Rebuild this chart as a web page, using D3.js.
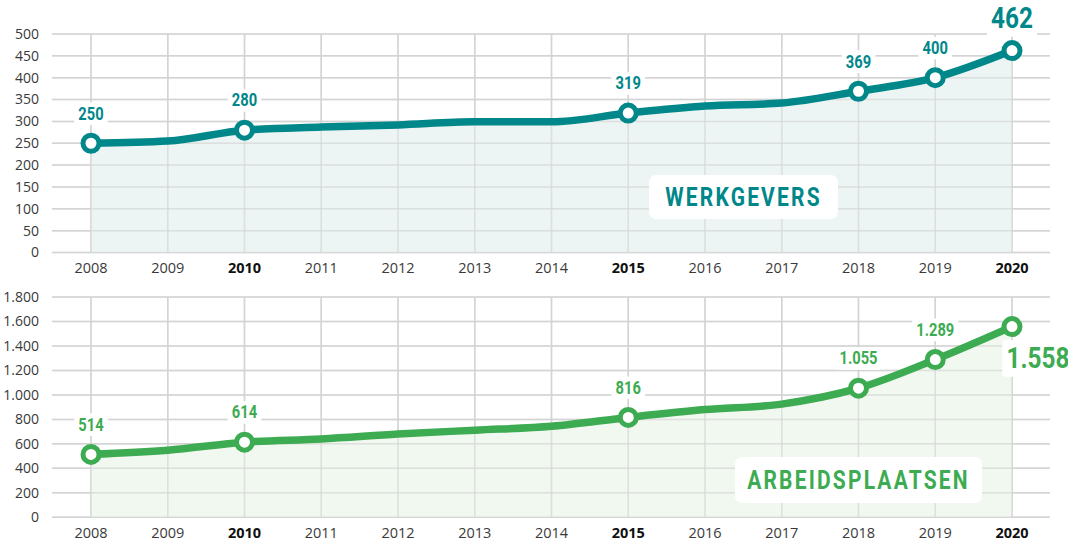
<!DOCTYPE html>
<html><head><meta charset="utf-8">
<script src="https://cdn.jsdelivr.net/npm/d3@7"></script>
<style>
html,body{margin:0;padding:0;background:#fff;}
svg{display:block;}
</style></head>
<body>
<svg id="chart" width="1068" height="546"></svg>
<script>
const years = [2008,2009,2010,2011,2012,2013,2014,2015,2016,2017,2018,2019,2020];
const boldYears = [2010,2015,2020];
const werkgevers = [250,255,280,287,292,299,299,319,335,342,369,400,462];
const arbeidsplaatsen = [514,548,614,640,680,712,744,816,880,925,1055,1289,1558];
const labeledYears = [2008,2010,2015,2018,2019,2020];
const topTicks = [0,50,100,150,200,250,300,350,400,450,500];
const bottomTicks = [0,200,400,600,800,1000,1200,1400,1600,1800];

const nl = d3.formatLocale({decimal:",",thousands:".",grouping:[3],currency:["€",""]});
const fmt = nl.format(",d");

const svg = d3.select("#chart");
const x = d3.scaleLinear().domain([2008,2020]).range([91,1012]);
const gridX0 = 52, gridX1 = 1050;
const labelFont = "Roboto,'DejaVu Sans',sans-serif";
const axisFont = "'Open Sans','Noto Sans',sans-serif";
const SQ = 0.84;

function condensedText(parent, tx, ty, str, fs, color, ls, withBg){
  const g = parent.append("g").attr("transform",`translate(${tx},${ty}) scale(${SQ},1)`);
  const t = g.append("text").attr("x",0).attr("y",0).attr("dy","0.36em")
    .attr("text-anchor","middle").attr("font-family",labelFont).attr("font-weight","bold")
    .attr("font-size",fs).attr("letter-spacing",ls||0).attr("fill",color).text(str);
  if (withBg){
    const bb = t.node().getBBox();
    g.insert("rect","text").attr("x",bb.x-5).attr("y",bb.y-1).attr("width",bb.width+10).attr("height",bb.height+2)
      .attr("rx",4).attr("fill","#fff");
  }
  return g;
}

function panel(cfg){
  const g = svg.append("g");
  const y = d3.scaleLinear().domain([0, cfg.max]).range([cfg.y0, cfg.y1]);
  const grid = (op)=>{
    g.append("g").selectAll("line").data(cfg.ticks).join("line")
      .attr("x1",gridX0).attr("x2",gridX1)
      .attr("y1",d=>y(d)).attr("y2",d=>y(d))
      .attr("stroke","#d4d4d4").attr("stroke-width",1.5).attr("stroke-opacity",op);
    g.append("g").selectAll("line").data(years).join("line")
      .attr("x1",d=>x(d)).attr("x2",d=>x(d))
      .attr("y1",y(cfg.max)).attr("y2",y(0))
      .attr("stroke","#d4d4d4").attr("stroke-width",1.5).attr("stroke-opacity",op);
  };
  grid(1);
  g.append("g").selectAll("text").data(cfg.ticks).join("text")
    .attr("x",39).attr("y",d=>y(d)).attr("dy","0.35em")
    .attr("text-anchor","end")
    .attr("font-family",axisFont).attr("font-size",14).attr("fill","#3a3a3a")
    .text(d=>fmt(d));
  g.append("g").selectAll("text").data(years).join("text")
    .attr("x",d=>x(d)).attr("y",cfg.xLabelY)
    .attr("text-anchor","middle")
    .attr("font-family",axisFont).attr("font-size",14.5)
    .attr("font-weight",d=>boldYears.includes(d)?"bold":"normal")
    .attr("fill",d=>boldYears.includes(d)?"#111":"#3a3a3a")
    .text(d=>d);
  const data = years.map((yr,i)=>({yr, v:cfg.values[i]}));
  const curve = d3.curveMonotoneX;
  g.append("path").datum(data)
    .attr("d", d3.area().curve(curve).x(d=>x(d.yr)).y0(y(0)).y1(d=>y(d.v)))
    .attr("fill",cfg.fill).attr("fill-opacity",0.85);
  grid(0.6);
  g.append("rect").attr("x",cfg.box[0]).attr("y",cfg.box[1]).attr("width",cfg.box[2]).attr("height",cfg.box[3])
    .attr("rx",7).attr("fill","#fff");
  condensedText(g, cfg.box[0]+cfg.box[2]/2, cfg.box[1]+cfg.box[3]/2, cfg.name, 25, cfg.color, 2.6, false);
  g.append("path").datum(data)
    .attr("d", d3.line().curve(curve).x(d=>x(d.yr)).y(d=>y(d.v)))
    .attr("fill","none").attr("stroke",cfg.color).attr("stroke-width",7.5).attr("stroke-linejoin","round");
  const marked = data.filter(d=>labeledYears.includes(d.yr));
  g.append("g").selectAll("circle").data(marked).join("circle")
    .attr("cx",d=>x(d.yr)).attr("cy",d=>y(d.v)).attr("r",8)
    .attr("fill","#fff").attr("stroke",cfg.color).attr("stroke-width",5);
  const lg = g.append("g");
  marked.forEach(d=>{
    const last = d.yr===2020;
    const fs = last?29:17.5;
    let tx = x(d.yr), ty = y(d.v) - (last?cfg.lastOff:30);
    if (last && cfg.lastRight){ tx = x(d.yr)+26; ty = y(d.v)+31; }
    condensedText(lg, tx, ty, fmt(d.v), fs, cfg.color, 0, true);
  });
}

panel({max:500, ticks:topTicks, y0:252.5, y1:34, xLabelY:273, values:werkgevers,
  color:"#00878a", fill:"#e9f3f2", name:"WERKGEVERS", box:[649,175,189,44], lastOff:33, lastRight:false});
panel({max:1800, ticks:bottomTicks, y0:517.3, y1:297, xLabelY:538, values:arbeidsplaatsen,
  color:"#3dab52", fill:"#eef7ed", name:"ARBEIDSPLAATSEN", box:[735,457,247,46], lastOff:30, lastRight:true});
</script>
</body></html>
